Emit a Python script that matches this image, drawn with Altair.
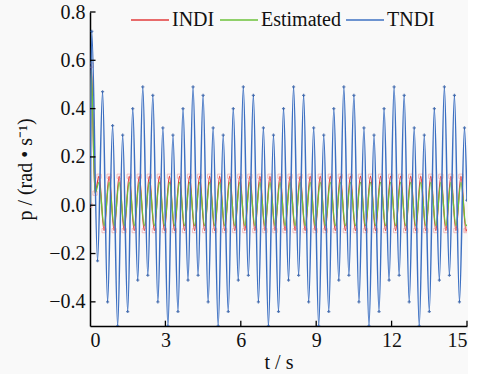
import altair as alt
import pandas as pd

# ---- data (extrema of each oscillation) ----
tndi_t = [0.0, 0.07, 0.30, 0.50, 0.70, 0.90, 1.10, 1.30, 1.50, 1.70,
          1.90, 2.10, 2.30, 2.50, 2.70, 2.90, 3.10, 3.30, 3.50, 3.70,
          3.90, 4.10, 4.30, 4.50, 4.70, 4.90, 5.10, 5.30, 5.50, 5.70,
          5.90, 6.10, 6.30, 6.50, 6.70, 6.90, 7.10, 7.30, 7.50, 7.70,
          7.90, 8.10, 8.30, 8.50, 8.70, 8.90, 9.10, 9.30, 9.50, 9.70,
          9.90, 10.10, 10.30, 10.50, 10.70, 10.90, 11.10, 11.30, 11.50, 11.70,
          11.90, 12.10, 12.30, 12.50, 12.70, 12.90, 13.10, 13.30, 13.50, 13.70,
          13.90, 14.10, 14.30, 14.50, 14.70, 14.90, 15.0]
tndi_p = [0.0, 0.72, -0.23, 0.47, -0.40, 0.33, -0.50, 0.29, -0.44, 0.40,
          -0.31, 0.49, -0.29, 0.455, -0.40, 0.32, -0.50, 0.29, -0.44, 0.40,
          -0.31, 0.49, -0.29, 0.455, -0.40, 0.32, -0.50, 0.29, -0.44, 0.40,
          -0.31, 0.49, -0.29, 0.455, -0.40, 0.32, -0.50, 0.29, -0.44, 0.40,
          -0.31, 0.49, -0.29, 0.455, -0.40, 0.32, -0.50, 0.29, -0.44, 0.40,
          -0.31, 0.49, -0.29, 0.455, -0.40, 0.32, -0.50, 0.29, -0.44, 0.40,
          -0.31, 0.49, -0.29, 0.455, -0.40, 0.32, -0.50, 0.29, -0.44, 0.40,
          -0.31, 0.49, -0.29, 0.455, -0.40, 0.32, 0.02]

osc_t = [0.0, 0.05, 0.20, 0.36, 0.56, 0.76, 0.96, 1.16, 1.36, 1.56,
         1.76, 1.96, 2.16, 2.36, 2.56, 2.76, 2.96, 3.16, 3.36, 3.56,
         3.76, 3.96, 4.16, 4.36, 4.56, 4.76, 4.96, 5.16, 5.36, 5.56,
         5.76, 5.96, 6.16, 6.36, 6.56, 6.76, 6.96, 7.16, 7.36, 7.56,
         7.76, 7.96, 8.16, 8.36, 8.56, 8.76, 8.96, 9.16, 9.36, 9.56,
         9.76, 9.96, 10.16, 10.36, 10.56, 10.76, 10.96, 11.16, 11.36, 11.56,
         11.76, 11.96, 12.16, 12.36, 12.56, 12.76, 12.96, 13.16, 13.36, 13.56,
         13.76, 13.96, 14.16, 14.36, 14.56, 14.76, 14.96, 15.0]
indi_p = [0.0, 0.58, 0.05, 0.12, -0.105, 0.12, -0.105, 0.12, -0.105, 0.12,
          -0.105, 0.12, -0.105, 0.12, -0.105, 0.12, -0.105, 0.12, -0.105, 0.12,
          -0.105, 0.12, -0.105, 0.12, -0.105, 0.12, -0.105, 0.12, -0.105, 0.12,
          -0.105, 0.12, -0.105, 0.12, -0.105, 0.12, -0.105, 0.12, -0.105, 0.12,
          -0.105, 0.12, -0.105, 0.12, -0.105, 0.12, -0.105, 0.12, -0.105, 0.12,
          -0.105, 0.12, -0.105, 0.12, -0.105, 0.12, -0.105, 0.12, -0.105, 0.12,
          -0.105, 0.12, -0.105, 0.12, -0.105, 0.12, -0.105, 0.12, -0.105, 0.12,
          -0.105, 0.12, -0.105, 0.12, -0.105, 0.12, -0.105, -0.10]
est_p = [0.0, 0.56, 0.05, 0.095, -0.085, 0.095, -0.085, 0.095, -0.085, 0.095,
         -0.085, 0.095, -0.085, 0.095, -0.085, 0.095, -0.085, 0.095, -0.085, 0.095,
         -0.085, 0.095, -0.085, 0.095, -0.085, 0.095, -0.085, 0.095, -0.085, 0.095,
         -0.085, 0.095, -0.085, 0.095, -0.085, 0.095, -0.085, 0.095, -0.085, 0.095,
         -0.085, 0.095, -0.085, 0.095, -0.085, 0.095, -0.085, 0.095, -0.085, 0.095,
         -0.085, 0.095, -0.085, 0.095, -0.085, 0.095, -0.085, 0.095, -0.085, 0.095,
         -0.085, 0.095, -0.085, 0.095, -0.085, 0.095, -0.085, 0.095, -0.085, 0.095,
         -0.085, 0.095, -0.085, 0.095, -0.085, 0.095, -0.085, -0.08]

series_names = ["INDI", "Estimated", "TNDI"]
series_colors = ["#e23b3b", "#6cc23a", "#3d70c2"]

y_ticks = [-0.4, -0.2, 0.0, 0.2, 0.4, 0.6, 0.8]
x_ticks = [0, 3, 6, 9, 12, 15]

df_indi = pd.DataFrame({"t": osc_t, "p": indi_p, "s": "INDI"})
df_est = pd.DataFrame({"t": osc_t, "p": est_p, "s": "Estimated"})
df_tndi = pd.DataFrame({"t": tndi_t, "p": tndi_p, "s": "TNDI"})

FONT = "Liberation Serif"

xs = alt.Scale(domain=[0, 15], nice=False, zero=False)
ys = alt.Scale(domain=[-0.5, 0.8], nice=False, zero=False)

color = alt.Color(
    "s:N",
    scale=alt.Scale(domain=series_names, range=series_colors),
    legend=alt.Legend(
        title=None, orient="none", direction="horizontal", legendX=40, legendY=-12,
        symbolType="stroke", symbolSize=1444, symbolStrokeWidth=1.4,
        labelFont=FONT, labelFontSize=20, labelColor="#111", labelOffset=2,
        columnPadding=2, columns=3, padding=0,
    ),
)

x_enc = alt.X("t:Q", scale=xs,
              axis=alt.Axis(values=x_ticks, format="d", title="t / s", ticks=False, grid=False,
                            labelPadding=4, titlePadding=2))
y_enc = alt.Y("p:Q", scale=ys,
              axis=alt.Axis(values=y_ticks, format=".1f", title="p / (rad • s⁻¹)", ticks=False,
                            grid=False, labelPadding=5, titlePadding=13))


def line(df, w):
    return alt.Chart(df).mark_line(interpolate="monotone", strokeWidth=w, clip=True).encode(
        x=x_enc, y=y_enc, color=color)


red_pts = alt.Chart(df_indi).mark_point(shape="square", filled=False, size=18, strokeWidth=0.8,
                                        color="#f08c8c", clip=True).encode(
    x="t:Q", y="p:Q")
blue_pts = alt.Chart(df_tndi).mark_point(shape="cross", filled=True, size=10,
                                         color="#1f4e9c", clip=True).encode(
    x="t:Q", y="p:Q")

ytick_df = pd.DataFrame({"v": y_ticks, "a": [0] * len(y_ticks), "b": [0.22] * len(y_ticks)})
xtick_df = pd.DataFrame({"v": x_ticks[1:], "a": [-0.5] * 5, "b": [-0.478] * 5})
ytk = alt.Chart(ytick_df).mark_rule(color="black", strokeWidth=1.3).encode(
    y="v:Q", x="a:Q", x2="b:Q")
xtk = alt.Chart(xtick_df).mark_rule(color="black", strokeWidth=1.3).encode(
    x="v:Q", y="a:Q", y2="b:Q")

chart = alt.layer(
    line(df_indi, 1.3), red_pts, line(df_est, 1.3), line(df_tndi, 1.5), blue_pts, ytk, xtk
).properties(
    width=377, height=314, background="#f9f9f9",
    padding={"left": 15, "top": 0, "right": 0, "bottom": 2},
).configure_view(stroke=None).configure_axis(
    domainColor="black", domainWidth=1.5,
    labelFont=FONT, labelFontSize=20, labelColor="#111",
    titleFont=FONT, titleFontSize=20, titleFontWeight="normal", titleColor="#111",
)

chart.save("out.html", embed_options={"renderer": "svg", "actions": False})
